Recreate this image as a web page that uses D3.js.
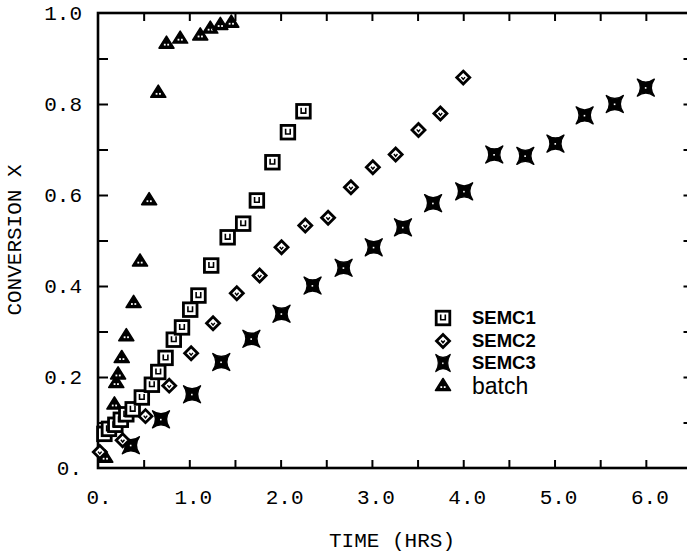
<!DOCTYPE html>
<html><head><meta charset="utf-8">
<script src="https://cdn.jsdelivr.net/npm/d3@7"></script>
<style>
html,body{margin:0;padding:0;background:#fff;}
svg{display:block;}
</style></head>
<body>
<svg id="chart" width="687" height="553"></svg>
<script>
// ---- data ----
const semc1Time = [0.07,0.12,0.19,0.25,0.31,0.38,0.48,0.59,0.66,0.74,0.83,0.92,1.01,1.10,1.24,1.42,1.59,1.74,1.91,2.08,2.25];
const semc1Conv = [0.075,0.086,0.095,0.106,0.118,0.129,0.155,0.183,0.211,0.242,0.282,0.309,0.348,0.379,0.445,0.507,0.537,0.588,0.672,0.738,0.784];

const semc2Time = [0.02,0.27,0.52,0.78,1.02,1.26,1.52,1.77,2.01,2.27,2.52,2.77,3.01,3.26,3.51,3.75,4.00];
const semc2Conv = [0.035,0.061,0.114,0.181,0.252,0.318,0.384,0.423,0.485,0.533,0.550,0.617,0.661,0.689,0.743,0.779,0.858];

const semc3Time = [0.36,0.69,1.03,1.35,1.68,2.01,2.35,2.69,3.02,3.34,3.67,4.01,4.34,4.68,5.01,5.33,5.66,6.00];
const semc3Conv = [0.050,0.107,0.162,0.233,0.284,0.339,0.401,0.440,0.485,0.529,0.582,0.608,0.689,0.686,0.713,0.775,0.800,0.836];

const batchTime = [0.08,0.18,0.20,0.22,0.26,0.31,0.39,0.46,0.56,0.66,0.75,0.90,1.12,1.23,1.34,1.46];
const batchConv = [0.025,0.142,0.189,0.208,0.244,0.292,0.365,0.456,0.591,0.827,0.935,0.946,0.953,0.968,0.976,0.981];

const xTickValues = [0,1,2,3,4,5,6];
const xTickLabels = ["0.","1.0","2.0","3.0","4.0","5.0","6.0"];
const yTickValues = [0,0.2,0.4,0.6,0.8,1.0];
const yTickLabels = ["0.","0.2","0.4","0.6","0.8","1.0"];
const legendLabels = ["SEMC1","SEMC2","SEMC3","batch"];
const xTitle = "TIME (HRS)";
const yTitle = "CONVERSION X";

// ---- layout ----
const svg = d3.select("#chart");
const x = d3.scaleLinear().domain([0,6.5]).range([98,691.5]);
const y = d3.scaleLinear().domain([0,1]).range([468,13]);
const mono = "'Liberation Mono','DejaVu Sans Mono',monospace";

// frame
const g = svg.append("g");
g.append("rect")
  .attr("x", x(0)).attr("y", y(1))
  .attr("width", x(6.5)-x(0)).attr("height", y(0)-y(1))
  .attr("fill","none").attr("stroke","#000").attr("stroke-width",2.6);

// ticks via axes
const xMinor = d3.range(0.5,6.5,0.5);
const yMinor = d3.range(0.1,1.0,0.1);
function styleAxis(sel){
  sel.select(".domain").remove();
  sel.selectAll(".tick line").attr("stroke","#000").attr("stroke-width",2);
  sel.selectAll("text").remove();
}
svg.append("g").attr("transform",`translate(0,${y(0)})`)
  .call(d3.axisTop(x).tickValues(xMinor).tickSize(8)).call(styleAxis);
svg.append("g").attr("transform",`translate(0,${y(1)})`)
  .call(d3.axisBottom(x).tickValues(xMinor).tickSize(8)).call(styleAxis);
svg.append("g").attr("transform",`translate(${x(0)},0)`)
  .call(d3.axisRight(y).tickValues(yMinor).tickSize(10)).call(styleAxis);
svg.append("g").attr("transform",`translate(${x(6.5)},0)`)
  .call(d3.axisLeft(y).tickValues(yMinor).tickSize(8)).call(styleAxis);

// tick labels
svg.append("g").selectAll("text").data(xTickValues).join("text")
  .attr("x", (d)=> x(d) + (d===0 ? 1 : 4))
  .attr("y", 504)
  .attr("text-anchor","middle")
  .attr("font-family",mono).attr("font-size",21)
  .text((d,i)=>xTickLabels[i]);
svg.append("g").selectAll("text").data(yTickValues).join("text")
  .attr("x", 82)
  .attr("y", (d)=> y(d) + 7)
  .attr("text-anchor","end")
  .attr("font-family",mono).attr("font-size",21)
  .text((d,i)=>yTickLabels[i]);

// axis titles
svg.append("text").attr("x",392).attr("y",547)
  .attr("text-anchor","middle").attr("font-family",mono).attr("font-size",21)
  .text(xTitle);
svg.append("text").attr("transform","translate(21,240) rotate(-90)")
  .attr("text-anchor","middle").attr("font-family",mono).attr("font-size",21)
  .text(yTitle);

// ---- markers ----
function drawSquare(sel){
  sel.append("rect").attr("x",-6.8).attr("y",-6.8).attr("width",13.6).attr("height",13.6)
    .attr("fill","#fff").attr("stroke","#000").attr("stroke-width",2.8);
  sel.append("path").attr("d","M-2.3,-3.5V1.8H2.3V-3.5")
    .attr("fill","none").attr("stroke","#000").attr("stroke-width",1.6);
}
function drawDiamond(sel){
  sel.append("path").attr("d","M0,-6.5L6.5,0L0,6.5L-6.5,0Z")
    .attr("fill","#fff").attr("stroke","#000").attr("stroke-width",2.8);
  sel.append("path").attr("d","M-1.8,-0.5L0,1.8L1.8,-0.5")
    .attr("fill","none").attr("stroke","#000").attr("stroke-width",1.4);
}
function drawStar(sel){
  sel.append("path").attr("d","M-8.5,-8.5Q0,-2.5 8.5,-8.5Q2.5,0 8.5,8.5Q0,2.5 -8.5,8.5Q-2.5,0 -8.5,-8.5Z")
    .attr("fill","#000").attr("stroke","#000").attr("stroke-width",1.4).attr("stroke-linejoin","round");
  sel.append("rect").attr("x",-1).attr("y",-0.5).attr("width",1.6).attr("height",1.6).attr("fill","#fff");
}
function drawTriangle(sel){
  sel.append("path").attr("d","M0,-6.5L7.5,5.5L-7.5,5.5Z")
    .attr("fill","#000").attr("stroke","#000").attr("stroke-width",1.6).attr("stroke-linejoin","round");
  sel.append("rect").attr("x",-2.6).attr("y",1.2).attr("width",1.8).attr("height",1.8).attr("fill","#fff");
  sel.append("rect").attr("x",0.8).attr("y",1.2).attr("width",1.8).attr("height",1.8).attr("fill","#fff");
}

function plotSeries(times, convs, drawer){
  const pts = times.map((t,i)=>({t, c: convs[i]}));
  svg.append("g").selectAll("g").data(pts).join("g")
    .attr("transform", d=>`translate(${x(d.t)},${y(d.c)})`)
    .each(function(){ drawer(d3.select(this)); });
}
plotSeries(batchTime, batchConv, drawTriangle);
plotSeries(semc3Time, semc3Conv, drawStar);
plotSeries(semc2Time, semc2Conv, drawDiamond);
plotSeries(semc1Time, semc1Conv, drawSquare);

// ---- legend ----
const drawers = [drawSquare, drawDiamond, drawStar, drawTriangle];
const legY = [318, 341, 363, 385];
const leg = svg.append("g");
legendLabels.forEach((lab,i)=>{
  const s = leg.append("g").attr("transform",`translate(443,${legY[i]})`);
  if(i===2){ s.attr("transform",`translate(443,${legY[i]}) scale(0.85,1)`); }
  drawers[i](s);
  leg.append("text").attr("x",472).attr("y",legY[i] + (i===3 ? 9 : 5.5))
    .attr("font-family","'Liberation Sans',Arial,sans-serif")
    .attr("font-weight", i===3 ? "normal" : "bold")
    .attr("font-size", i===3 ? 23 : 18.5)
    .text(lab);
});
</script>
</body></html>
